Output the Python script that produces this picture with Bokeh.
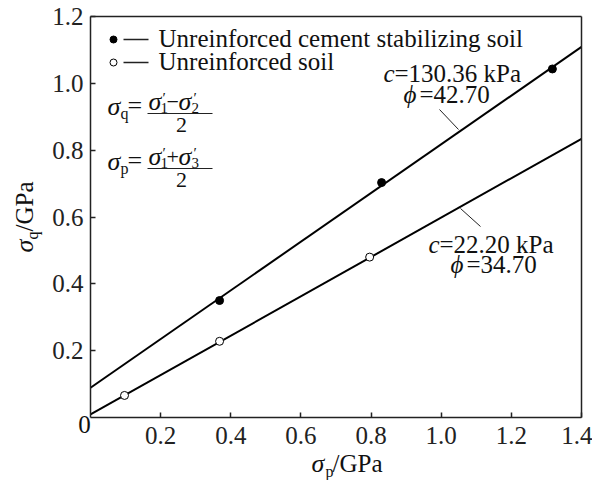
import math
from bokeh.plotting import figure
from bokeh.models import Range1d, Label, FixedTicker, PrintfTickFormatter, LinearAxis
from bokeh.embed import file_html
from bokeh.resources import INLINE

# ---------------- data ----------------
cement_p = [0.368, 0.830, 1.317]
cement_q = [0.350, 0.703, 1.043]
soil_p = [0.097, 0.368, 0.796]
soil_q = [0.066, 0.228, 0.480]
fit_p = [0.0, 1.4]
cement_fit_q = [0.089, 1.109]
soil_fit_q = [0.009, 0.834]
x_ticks = [0.2, 0.4, 0.6, 0.8, 1.0, 1.2, 1.4]
y_ticks = [0.2, 0.4, 0.6, 0.8, 1.0, 1.2]
x_lim = (0.0, 1.4)
y_lim = (0.0, 1.2)
legend_labels = ["Unreinforced cement stabilizing soil", "Unreinforced soil"]
c_values = ["130.36", "22.20"]
phi_values = ["42.70", "34.70"]

FONT = "Liberation Serif"
W, H = 592, 480
FL, FR, FT, FB = 90, 581, 16, 417  # plot box edges in canvas pixels


def dx(px):
    return x_lim[0] + (px - FL) / (FR - FL) * (x_lim[1] - x_lim[0])


def dy(py):
    return y_lim[0] + (FB - py) / (FB - FT) * (y_lim[1] - y_lim[0])


# the frame covers the whole canvas; axes are pinned at the box edges
p = figure(width=W, height=H, output_backend="svg", toolbar_location=None,
           x_range=Range1d(dx(0), dx(W)), y_range=Range1d(dy(H), dy(0)),
           min_border_left=0, min_border_right=0,
           min_border_top=0, min_border_bottom=0)
p.background_fill_color = "white"
p.border_fill_color = "white"
p.outline_line_color = None
p.xgrid.visible = False
p.ygrid.visible = False

for ax, ticks, loc, bnds in ((p.xaxis[0], x_ticks, y_lim[0], x_lim),
                             (p.yaxis[0], y_ticks, x_lim[0], y_lim)):
    ax.fixed_location = loc
    ax.bounds = bnds
    ax.ticker = FixedTicker(ticks=ticks)
    ax.formatter = PrintfTickFormatter(format="%.1f")
    ax.axis_line_color = "#222222"
    ax.axis_line_width = 1.5
    ax.major_tick_in = 5
    ax.major_tick_out = 0
    ax.major_tick_line_color = "#222222"
    ax.major_tick_line_width = 1.5
    ax.minor_tick_line_color = None
    ax.major_label_text_font = FONT
    ax.major_label_text_font_size = "25px"
    ax.major_label_text_color = "#222222"
p.xaxis[0].major_label_standoff = 9
p.yaxis[0].major_label_standoff = 7

# closing box lines (no ticks, no labels) on top and right
for place, loc, bnds in (("right", x_lim[1], y_lim), ("above", y_lim[1], x_lim)):
    bx = LinearAxis(ticker=FixedTicker(ticks=[]), fixed_location=loc, bounds=bnds,
                    axis_line_color="#222222", axis_line_width=1.5,
                    major_tick_line_color=None, minor_tick_line_color=None)
    p.add_layout(bx, place)


def lab(txt, px, py, size=25, style="normal", align="left", angle=0.0):
    """px: left/centre x, py: text baseline y, in canvas pixels."""
    if angle:
        ax_, ay_ = px - 0.35 * size, py
    else:
        ax_, ay_ = px, py - 0.35 * size
    p.add_layout(Label(x=dx(ax_), y=dy(ay_), text=txt, text_font=FONT,
                       text_font_size=f"{size}px", text_font_style=style,
                       text_align=align, text_baseline="middle",
                       angle=angle, text_color="#111111"))


def seg(x0, y0, x1, y1, w=1.0):
    p.segment(x0=[dx(x0)], y0=[dy(y0)], x1=[dx(x1)], y1=[dy(y1)],
              line_color="#222222", line_width=w)


# ---------------- fitted lines and points ----------------
p.line(fit_p, cement_fit_q, line_color="black", line_width=2)
p.line(fit_p, soil_fit_q, line_color="black", line_width=2)
p.scatter(cement_p, cement_q, size=8, marker="circle", fill_color="black", line_color="black")
p.scatter(soil_p, soil_q, size=8, marker="circle", fill_color="white", line_color="black", line_width=1)

# ---------------- legend ----------------
p.scatter([dx(113)], [dy(39)], size=7, marker="circle", fill_color="black", line_color="black")
p.scatter([dx(113)], [dy(62)], size=7, marker="circle", fill_color="white", line_color="black")
seg(123, 39, 148, 39, 1.5)
seg(123, 62, 148, 62, 1.5)
lab(legend_labels[0], 158, 47)
lab(legend_labels[1], 158, 70)

# ---------------- formulas ----------------
for off, sub, op, sub2 in ((0, "q", "\u2212", "2"), (55, "p", "+", "3")):
    lab("\u03c3", 107, 115 + off, 26, "italic")
    lab(sub, 120, 119 + off, 16)
    lab("=", 127, 114 + off, 26)
    seg(147, 113 + off, 212, 113 + off, 1.2)
    lab("\u03c3", 148, 110 + off, 26, "italic")
    lab("\u2032", 162, 103 + off, 15)
    lab("1", 160, 113 + off, 15)
    lab(op, 166, 109 + off, 22)
    lab("\u03c3", 178, 110 + off, 26, "italic")
    lab("\u2032", 193, 103 + off, 15)
    lab(sub2, 191, 113 + off, 15)
    lab("2", 181, 132 + off, 22, align="center")

# ---------------- fit annotations ----------------
lab("c", 383, 82, 25, "italic")
lab("=" + c_values[0] + " kPa", 394, 82)
lab("\u03d5", 403, 103, 25, "italic")
lab("=" + phi_values[0], 419, 103)
seg(439, 109, 458, 129, 1.0)

lab("c", 428, 253, 25, "italic")
lab("=" + c_values[1] + " kPa", 439, 253)
lab("\u03d5", 450, 273, 25, "italic")
lab("=" + phi_values[1], 466, 273)
seg(460, 208, 480, 226, 1.0)

# ---------------- axis titles and origin ----------------
lab("0", 84, 433, 25, align="center")
lab("\u03c3", 311, 472, 26, "italic")
lab("p", 325, 477, 16)
lab("/GPa", 332, 472, 25)

rot = math.pi / 2
lab("\u03c3", 33, 252, 26, "italic", angle=rot)
lab("q", 38, 239, 16, angle=rot)
lab("/GPa", 33, 231, 25, angle=rot)

open("out.html", "w").write(file_html(p, INLINE))
